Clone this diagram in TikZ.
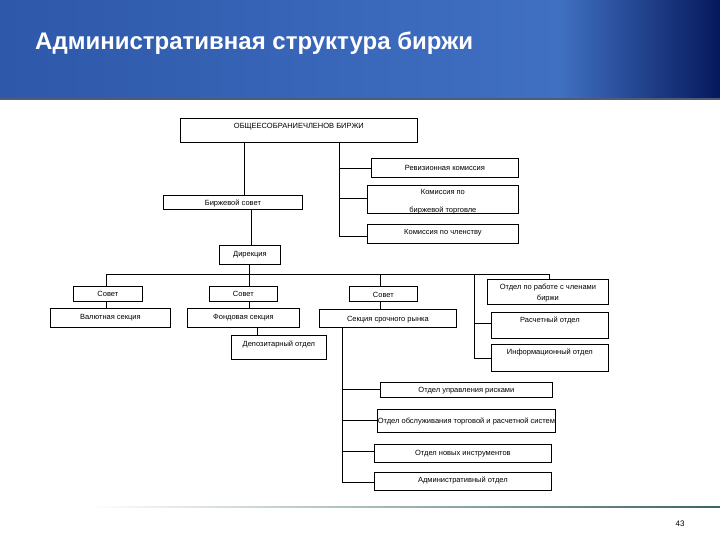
\documentclass[tikz,border=0pt]{standalone}
\usepackage{fontspec}
\setmainfont{Liberation Sans}
\definecolor{hdrA}{RGB}{46,88,170}
\definecolor{hdrB}{RGB}{64,112,194}
\definecolor{hdrC}{RGB}{6,24,92}
\definecolor{hdrline}{RGB}{80,92,115}
\definecolor{footline}{RGB}{60,100,100}
\begin{document}
\begin{tikzpicture}[x=1pt,y=-1pt,
  box/.style={draw=black,line width=0.8pt,inner sep=0pt,fill=white},
  lbl/.style={font=\fontsize{7.5}{8}\selectfont,inner sep=0pt,text=black},
  conn/.style={draw=black,line width=0.8pt}]
\newcommand\orgbox[7]{\node[box,minimum width={(#4-#2)*1pt},minimum height={(#5-#3)*1pt},anchor=north west,
  label={[lbl,anchor=center,yshift={-(#6+1.5)*1pt}]north:{#7}}] (#1) at (#2,#3) {};}
\useasboundingbox (0,0) rectangle (720,540);
% header band
\shade[left color=hdrA,right color=hdrB] (0,0) rectangle (560,100);
\shade[left color=hdrB,right color=hdrC] (560,0) rectangle (720,100);
\fill[hdrline] (0,98.5) rectangle (720,100.5);
\node[anchor=base west,inner sep=0pt,text=white,font=\fontsize{24}{28}\selectfont\bfseries] (title) at (35,50) {Административная структура биржи};
% footer
\shade[left color=white,right color=footline] (90,506.3) rectangle (720,507.7);
\node[anchor=center,inner sep=0pt,font=\fontsize{8}{9}\selectfont] (pg) at (680,524) {43};
% boxes
\orgbox{top}{180}{118}{417}{142}{7}{ОБЩЕЕСОБРАНИЕЧЛЕНОВ БИРЖИ}
\orgbox{rev}{371}{158}{518}{177}{8}{Ревизионная комиссия}
\node[box,minimum width=151pt,minimum height=28pt,anchor=north west,
  label={[lbl,anchor=center,yshift=-6.5pt]north:{Комиссия по}},
  label={[lbl,anchor=center,yshift=-25pt]north:{биржевой торговле}}] (kbt) at (367,185) {};
\orgbox{kch}{367}{224}{518}{243}{7}{Комиссия по членству}
\orgbox{bs}{163}{195}{302}{209}{7}{Биржевой совет}
\orgbox{dir}{219}{245}{280}{264}{8}{Дирекция}
\orgbox{sov1}{73}{286}{142}{301}{6.5}{Совет}
\orgbox{sov2}{209}{286}{277}{301}{6.5}{Совет}
\orgbox{sov3}{349}{286}{417}{301}{7}{Совет}
\orgbox{val}{50}{308}{170}{327}{8}{Валютная секция}
\orgbox{fond}{187}{308}{299}{327}{8}{Фондовая секция}
\orgbox{srk}{319}{309}{456}{327}{9}{Секция срочного рынка}
\orgbox{dep}{231}{335}{326}{359}{8}{Депозитарный отдел}
\node[box,minimum width=121pt,minimum height=25pt,anchor=north west,
  label={[lbl,anchor=center,yshift=-9pt]north:{Отдел по работе с членами}},
  label={[lbl,anchor=center,yshift=-20pt]north:{биржи}}] (otd) at (487,279) {};
\orgbox{ras}{491}{312}{608}{338}{7}{Расчетный отдел}
\orgbox{inf}{491}{344}{608}{371}{7}{Информационный отдел}
\orgbox{risk}{380}{382}{552}{397}{7.5}{Отдел управления рисками}
\orgbox{obs}{377}{409}{555}{432}{11}{Отдел обслуживания торговой и расчетной систем}
\orgbox{nov}{374}{444}{551}{462}{8}{Отдел новых инструментов}
\orgbox{adm}{374}{472}{551}{490}{7}{Административный отдел}
% connectors
\coordinate (j1) at (339,236);
\coordinate (bus) at (106,274);
\coordinate (j2) at (474,358);
\coordinate (j3) at (342,482);
\draw[conn] (top.south -| 244,0) -- (bs.north -| 244,0);
\draw[conn] (top.south -| j1) -- (j1) -- (kch.west |- j1);
\draw[conn] (339,168) -- (rev.west |- 0,168);
\draw[conn] (339,198) -- (kbt.west |- 0,198);
\draw[conn] (bs.south -| 251,0) -- (dir.north -| 251,0);
\draw[conn] (dir.south -| 249,0) -- (sov2.north -| 249,0);
\draw[conn] (sov2.south -| 249,0) -- (fond.north -| 249,0);
\draw[conn] (bus) -- (549,274) -- (otd.north -| 549,0);
\draw[conn] (bus) -- (sov1.north -| bus);
\draw[conn] (sov1.south -| bus) -- (val.north -| bus);
\draw[conn] (380,274) -- (sov3.north -| 380,0);
\draw[conn] (sov3.south -| 380,0) -- (srk.north -| 380,0);
\draw[conn] (474,274) -- (j2) -- (inf.west |- j2);
\draw[conn] (474,323) -- (ras.west |- 0,323);
\draw[conn] (fond.south -| 257,0) -- (dep.north -| 257,0);
\draw[conn] (srk.south -| j3) -- (j3) -- (adm.west |- j3);
\draw[conn] (342,389) -- (risk.west |- 0,389);
\draw[conn] (342,420) -- (obs.west |- 0,420);
\draw[conn] (342,451) -- (nov.west |- 0,451);
\end{tikzpicture}
\end{document}
